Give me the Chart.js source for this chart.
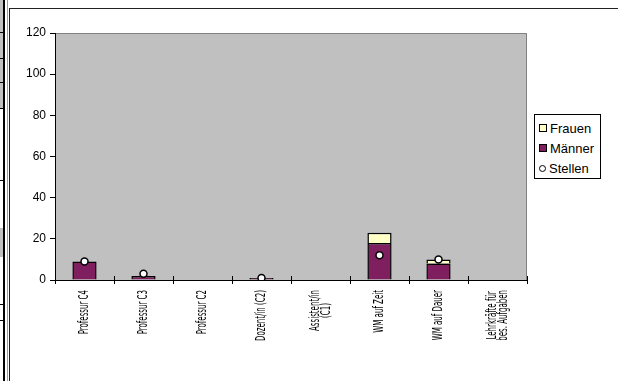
<!DOCTYPE html>
<html>
<head>
<meta charset="utf-8">
<script src="https://cdn.jsdelivr.net/npm/chart.js@4/dist/chart.umd.min.js"></script>
<style>
  html, body { margin: 0; background: #fff; overflow: hidden; }
  #wrap { position: relative; width: 618px; height: 381px; overflow: hidden; }
  #frame { position: absolute; left: 9px; top: 8px; width: 609px; height: 373px; box-sizing: border-box; border-left: 1px solid #222; border-top: 1px solid #222; background: #fff; }
  .cell { position: absolute; left: 0; width: 3px; background: #c0c0c0; }
  .rule { position: absolute; left: 0; width: 3px; height: 1px; background: #000; }
  #vline { position: absolute; left: 3px; top: 0; width: 2px; height: 381px; background: #000; }
  #vline2 { position: absolute; left: 7px; top: 0; width: 1px; height: 381px; background: #999; }
  #chart { position: absolute; left: 0; top: 0; }
  #legend { position: absolute; left: 534px; top: 114px; width: 65px; height: 63px; border: 1px solid #000; background: #fff;
            font: 13px "Liberation Sans", Arial, sans-serif; color: #000; }
  #legend div { position: absolute; left: 4px; height: 16px; line-height: 16px; white-space: nowrap; }
  #legend span.box { display: inline-block; width: 6px; height: 6px; border: 1px solid #000; margin-right: 3px; vertical-align: 1px; }
  #legend span.dot { display: inline-block; width: 5px; height: 5px; border: 1.5px solid #000; border-radius: 50%; margin-right: 3px; vertical-align: 1px; background: #fff; }
</style>
</head>
<body>
<div id="wrap">
  <div class="cell" style="top:0;height:108px"></div>
  <div class="cell" style="top:228px;height:29px"></div>
  <div class="rule" style="top:32px"></div>
  <div class="rule" style="top:58px"></div>
  <div class="rule" style="top:82px"></div>
  <div class="rule" style="top:108px"></div>
  <div class="rule" style="top:180px"></div>
  <div class="rule" style="top:304px"></div>
  <div class="rule" style="top:320px"></div>
  <div id="vline"></div>
  <div id="vline2"></div>
  <div id="frame"></div>
  <canvas id="chart" width="618" height="381"></canvas>
  <div id="legend"></div>
</div>
<script>
// Kategorien und Werte
const kategorien = ["Professur C4", "Professur C3", "Professur C2", "Dozent/in (C2)",
  ["Assistent/in", "(C1)"], "WM auf Zeit", "WM auf Dauer", ["Lehrkräfte für", "bes. Aufgaben"]];
const maenner = [9, 2, 0, 1, 0, 18, 8, 0];
const frauen = [0, 0, 0, 0, 0, 5, 2, 0];
const stellen = [9, 3, null, 1, null, 12, 10, null];
const yTicks = [0, 20, 40, 60, 80, 100, 120];

const farbeMaenner = "#7f1f5f";
const farbeFrauen = "#ffffc6";

// leere Felder nicht als Strich zeichnen
function ohneNull(arr) {
  return arr.map(v => (v === 0 ? null : v));
}

// grauer Hintergrund der Zeichenfläche
const plotBg = {
  id: "plotBg",
  beforeDraw(chart) {
    const a = chart.chartArea, ctx = chart.ctx;
    ctx.save();
    ctx.fillStyle = "#c0c0c0";
    ctx.fillRect(a.left, a.top, a.right - a.left, a.bottom - a.top);
    ctx.strokeStyle = "#808080";
    ctx.lineWidth = 1;
    ctx.beginPath();
    ctx.moveTo(a.left, a.top + 0.5);
    ctx.lineTo(a.right - 0.5, a.top + 0.5);
    ctx.lineTo(a.right - 0.5, a.bottom);
    ctx.stroke();
    ctx.restore();
  },
  // Teilstriche der Rubrikenachse nach innen verlängern
  afterDatasetsDraw(chart) {
    const sc = chart.scales.x, ctx = chart.ctx;
    ctx.save();
    ctx.strokeStyle = "#000";
    ctx.lineWidth = 1;
    ctx.beginPath();
    for (let i = 1; i <= kategorien.length; i++) {
      const x = Math.round(sc.left + (sc.right - sc.left) * i / kategorien.length) + 0.5;
      ctx.moveTo(x, sc.top - 4);
      ctx.lineTo(x, sc.top);
    }
    ctx.stroke();
    ctx.restore();
  }
};

// senkrechte, schmale Achsenbeschriftung
const xLabels = {
  id: "xLabels",
  afterDraw(chart) {
    const sc = chart.scales.x, ctx = chart.ctx;
    ctx.save();
    ctx.fillStyle = "#000";
    ctx.font = "14px 'Liberation Sans Narrow', 'DejaVu Sans Condensed', sans-serif";
    ctx.textBaseline = "middle";
    ctx.textAlign = "center";
    const sx = 0.56, lh = 11;
    kategorien.forEach(function (lab, i) {
      const lines = Array.isArray(lab) ? lab : [lab];
      const x = sc.getPixelForTick(i);
      const widths = lines.map(l => ctx.measureText(l).width * sx);
      const maxW = Math.max.apply(null, widths);
      const top = sc.top + 10;
      lines.forEach(function (l, j) {
        const off = (j - (lines.length - 1) / 2) * lh;
        ctx.save();
        ctx.translate(x + off, top + maxW / 2);
        ctx.rotate(-Math.PI / 2);
        ctx.scale(sx, 1);
        ctx.fillText(l, 0, 0);
        ctx.restore();
      });
    });
    ctx.restore();
  }
};

const ctx = document.getElementById("chart").getContext("2d");
const chart = new Chart(ctx, {
  type: "bar",
  data: {
    labels: kategorien,
    datasets: [{
      label: "Stellen",
      type: "line",
      data: stellen,
      stack: "stellen",
      showLine: false,
      order: 0,
      pointRadius: 3.5,
      pointBorderWidth: 1.5,
      pointBackgroundColor: "#fff",
      pointBorderColor: "#000"
    }, {
      label: "Männer",
      data: ohneNull(maenner),
      stack: "personal",
      order: 1,
      backgroundColor: farbeMaenner,
      borderColor: "#000",
      borderWidth: 1.5,
      barPercentage: 0.41,
      categoryPercentage: 1
    }, {
      label: "Frauen",
      data: ohneNull(frauen),
      stack: "personal",
      order: 1,
      backgroundColor: farbeFrauen,
      borderColor: "#000",
      borderWidth: 1.5,
      barPercentage: 0.41,
      categoryPercentage: 1
    }]
  },
  options: {
    responsive: false,
    animation: false,
    layout: { padding: { left: 0, top: 33, right: 91, bottom: 0 } },
    plugins: { legend: { display: false }, tooltip: { enabled: false } },
    scales: {
      x: {
        stacked: true,
        offset: true,
        grid: { offset: true, drawOnChartArea: false, drawTicks: true, tickLength: 4, color: "#000" },
        border: { color: "#000", width: 1 },
        ticks: { display: false },
        afterFit(s) { s.height = 101; }
      },
      y: {
        stacked: true,
        min: 0,
        max: 120,
        afterBuildTicks(s) { s.ticks = yTicks.map(v => ({ value: v })); },
        grid: { drawOnChartArea: false, drawTicks: true, tickLength: 5, color: "#000" },
        border: { color: "#000", width: 1 },
        ticks: { color: "#000", padding: 4, font: { family: "'Liberation Sans', Arial, sans-serif", size: 12 } },
        afterFit(s) { s.width = 55; }
      }
    }
  },
  plugins: [plotBg, xLabels]
});

// Legende: Frauen, Männer, Stellen
const legend = document.getElementById("legend");
const eintraege = [
  { text: "Frauen", farbe: farbeFrauen },
  { text: "Männer", farbe: farbeMaenner },
  { text: "Stellen", farbe: null }
];
eintraege.forEach(function (e, i) {
  const d = document.createElement("div");
  d.style.top = (6 + i * 20) + "px";
  const s = document.createElement("span");
  if (e.farbe) { s.className = "box"; s.style.background = e.farbe; } else { s.className = "dot"; }
  d.appendChild(s);
  d.appendChild(document.createTextNode(e.text));
  legend.appendChild(d);
});
</script>
</body>
</html>
